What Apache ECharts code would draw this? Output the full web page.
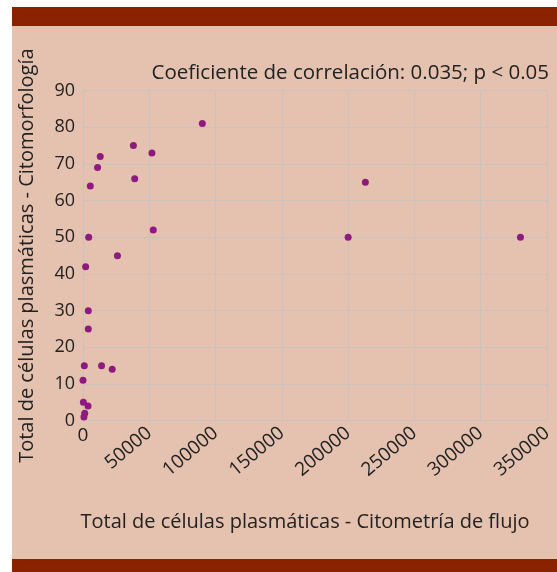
<!DOCTYPE html>
<html>
<head>
<meta charset="utf-8">
<script src="https://cdn.jsdelivr.net/npm/echarts@6/dist/echarts.min.js"></script>
<style>
  html, body { margin: 0; padding: 0; background: #ffffff; }
  #chart { width: 557px; height: 572px; }
</style>
</head>
<body>
<div id="chart"></div>
<script>
// flow cytometry count (x) vs cytomorphology count (y)
var flujo = [90000, 38000, 52000, 39000, 13000, 11000, 5500, 4300, 2000, 26000,
             53000, 4000, 4000, 1000, 14000, 22000, 0, 300, 3800, 1300, 700,
             200000, 213000, 330000];
var morfo = [81, 75, 73, 66, 72, 69, 64, 50, 42, 45,
             52, 30, 25, 15, 15, 14, 11, 5, 4, 2, 1,
             50, 65, 50];
var xTicks = [0, 50000, 100000, 150000, 200000, 250000, 300000, 350000];
var yTicks = [0, 10, 20, 30, 40, 50, 60, 70, 80, 90];

var puntos = [];
for (var i = 0; i < flujo.length; i++) {
	puntos.push([flujo[i], morfo[i]]);
}

var fuente = '"Open Sans", Lato, sans-serif';
var gris = '#C9C2BE';
var myChart = echarts.init(document.getElementById('chart'));

var option = {
	backgroundColor: '#ffffff',
	animation: false,
	graphic: [
		{ type: 'rect', z: -10, shape: { x: 12, y: 7, width: 545, height: 552 }, style: { fill: '#E4C2AF' } },
		{ type: 'rect', z: -9, shape: { x: 12, y: 7, width: 545, height: 19 }, style: { fill: '#8A2200' } },
		{ type: 'rect', z: -9, shape: { x: 12, y: 559, width: 545, height: 13 }, style: { fill: '#8A2200' } }
	],
	title: {
		text: 'Coeficiente de correlación: 0.035; p < 0.05',
		right: 3,
		top: 58,
		textStyle: { fontFamily: fuente, fontWeight: 'normal', fontSize: 20.5, color: '#222' }
	},
	grid: { left: 83, right: 10, top: 90.6, bottom: 151.3, containLabel: false },
	xAxis: [
		{
			type: 'value',
			min: xTicks[0],
			max: xTicks[xTicks.length - 1],
			interval: 50000,
			name: 'Total de células plasmáticas - Citometría de flujo',
			nameLocation: 'middle',
			nameGap: 92,
			nameTextStyle: { fontFamily: fuente, fontSize: 20, color: '#222', padding: [0, 20, 0, 0] },
			axisLine: { show: true, lineStyle: { color: gris, width: 1 } },
			axisTick: { show: false },
			axisLabel: {
				rotate: 40, fontFamily: fuente, fontSize: 19, color: '#222', margin: 10,
				formatter: function(v) { return v === 0 ? '' : String(v); }
			},
			splitLine: { show: true, lineStyle: { color: gris, width: 1 } }
		},
		{
			// second axis only to keep the "0" label upright
			type: 'value',
			position: 'bottom',
			min: xTicks[0],
			max: xTicks[xTicks.length - 1],
			interval: 50000,
			axisLine: { show: false },
			axisTick: { show: false },
			splitLine: { show: false },
			axisLabel: {
				fontFamily: fuente, fontSize: 19, color: '#222', margin: 5,
				formatter: function(v) { return v === 0 ? '0' : ''; }
			}
		}
	],
	yAxis: {
		type: 'value',
		min: yTicks[0],
		max: yTicks[yTicks.length - 1],
		interval: 10,
		name: 'Total de células plasmáticas - Citomorfología',
		nameLocation: 'middle',
		nameGap: 46,
		nameTextStyle: { fontFamily: fuente, fontSize: 20, color: '#222' },
		axisLine: { show: true, lineStyle: { color: gris, width: 1 } },
		axisTick: { show: false },
		axisLabel: { fontFamily: fuente, fontSize: 18, color: '#222', margin: 8 },
		splitLine: { show: true, lineStyle: { color: gris, width: 1 } }
	},
	series: [
		{
			type: 'scatter',
			xAxisIndex: 0,
			data: puntos,
			symbolSize: 7,
			itemStyle: { color: '#8E1A7F', opacity: 1 }
		}
	]
};

myChart.setOption(option, true);
</script>
</body>
</html>
